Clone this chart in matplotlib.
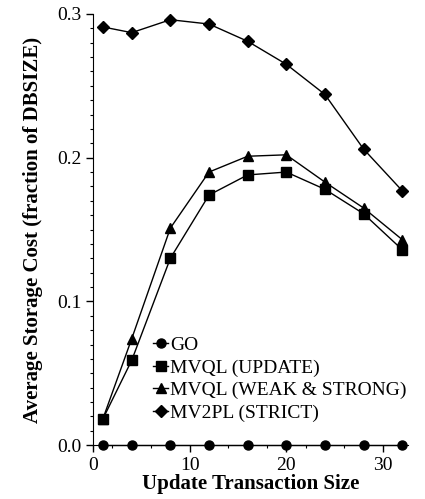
import matplotlib
matplotlib.use('Agg')
import matplotlib.pyplot as plt
from matplotlib.ticker import MultipleLocator

plt.rcParams['font.family'] = ['Liberation Serif', 'DejaVu Serif']

# Data
tx_size = [1, 4, 8, 12, 16, 20, 24, 28, 32]
go = [0, 0, 0, 0, 0, 0, 0, 0, 0]
mvql_update = [0.018, 0.059, 0.130, 0.174, 0.188, 0.190, 0.178, 0.161, 0.136]
mvql_weak_strong = [0.018, 0.074, 0.151, 0.190, 0.201, 0.202, 0.183, 0.165, 0.143]
mv2pl_strict = [0.291, 0.287, 0.296, 0.293, 0.281, 0.265, 0.244, 0.206, 0.177]

fig = plt.figure(figsize=(4.25, 4.99), dpi=100)
ax = fig.add_axes([0.219, 0.108, 0.741, 0.864])

ax.plot(tx_size, go, 'k-', marker='o', markersize=6.5, linewidth=1, label='GO', clip_on=False)
ax.plot(tx_size, mvql_update, 'k-', marker='s', markersize=6.5, linewidth=1, label='MVQL (UPDATE)')
ax.plot(tx_size, mvql_weak_strong, 'k-', marker='^', markersize=7, linewidth=1, label='MVQL (WEAK & STRONG)')
ax.plot(tx_size, mv2pl_strict, 'k-', marker='D', markersize=6, linewidth=1, label='MV2PL (STRICT)')

ax.set_xlim(0, 32.6)
ax.set_ylim(0, 0.3)
ax.xaxis.set_major_locator(MultipleLocator(10))
ax.xaxis.set_minor_locator(MultipleLocator(2))
ax.yaxis.set_major_locator(MultipleLocator(0.1))
ax.yaxis.set_minor_locator(MultipleLocator(0.01))
ax.yaxis.set_major_formatter(plt.FormatStrFormatter('%.1f'))
ax.tick_params(which='major', direction='out', length=5, labelsize=14, width=1)
ax.tick_params(which='minor', direction='out', length=2.5, width=0.8)
ax.spines['top'].set_visible(False)
ax.spines['right'].set_visible(False)

ax.set_xlabel('Update Transaction Size', fontsize=15, fontweight='bold', labelpad=0)
ax.set_ylabel('Average Storage Cost (fraction of DBSIZE)', fontsize=15, fontweight='bold', labelpad=10)

ax.legend(loc='upper left', bbox_to_anchor=(0.165, 0.27), frameon=False, fontsize=14,
          handlelength=0.8, handletextpad=0.1, labelspacing=0.25, borderaxespad=0)

plt.savefig('out.png', dpi=100)
